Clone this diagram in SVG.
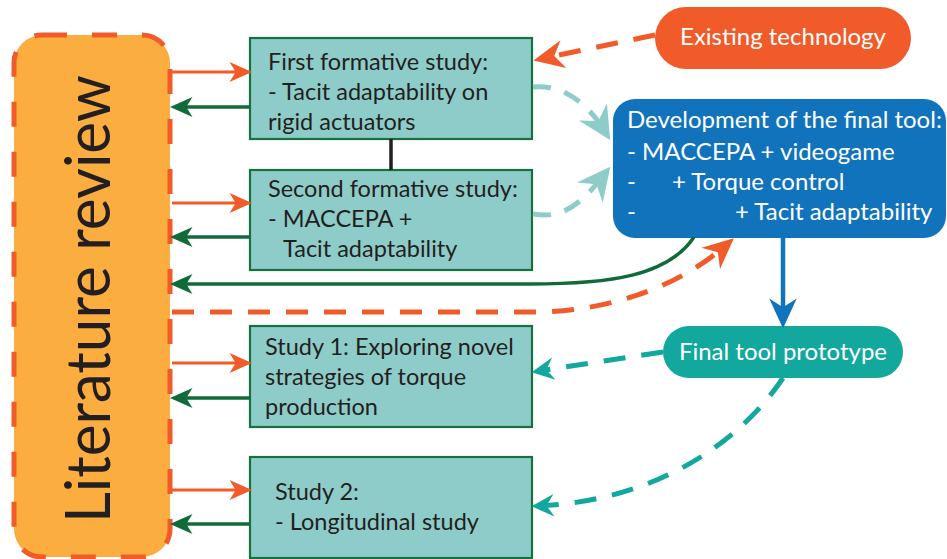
<svg xmlns="http://www.w3.org/2000/svg" width="947" height="559" viewBox="0 0 947 559">
  <style>
    .study rect { fill: #8ECCC9; stroke: #17703F; stroke-width: 2.2; }
    .dark { font-family: Lato, "Open Sans", sans-serif; font-size: 23.5px; fill: #231F20; }
    .light { font-family: Lato, "Open Sans", sans-serif; fill: #FFFFFF; }
    .to-study { stroke: #F15A29; stroke-width: 3; fill: none; }
    .to-lit { stroke: #116B39; stroke-width: 3.5; fill: none; }
    .dash-orange { stroke: #F15A29; stroke-width: 5; fill: none; stroke-dasharray: 22 16; }
    .dash-pale { stroke: #8ECCC9; stroke-width: 5; fill: none; stroke-dasharray: 18 14; }
    .dash-teal { stroke: #13A89E; stroke-width: 5; fill: none; stroke-dasharray: 22 16; }
  </style>
  <defs>
    <marker id="head-orange" markerUnits="userSpaceOnUse" markerWidth="30" markerHeight="30" viewBox="-20 -10 24 20" refX="-8" refY="0" orient="auto" overflow="visible">
      <path d="M0,0 L-18,-8 L-13,0 L-18,8 Z" fill="#F15A29"/>
    </marker>
    <marker id="head-green" markerUnits="userSpaceOnUse" markerWidth="30" markerHeight="30" viewBox="-20 -10 24 20" refX="-8" refY="0" orient="auto" overflow="visible">
      <path d="M0,0 L-18,-8 L-13,0 L-18,8 Z" fill="#116B39"/>
    </marker>
    <marker id="head-blue" markerUnits="userSpaceOnUse" markerWidth="30" markerHeight="30" viewBox="-20 -10 24 20" refX="-10" refY="0" orient="auto" overflow="visible">
      <path d="M0,0 L-24,-11 L-17,0 L-24,11 Z" fill="#1273BD"/>
    </marker>
    <marker id="big-orange" markerUnits="userSpaceOnUse" markerWidth="40" markerHeight="40" viewBox="-30 -15 34 30" refX="-10" refY="0" orient="auto" overflow="visible">
      <path d="M0,0 L-26,-12 L-18,0 L-26,12 Z" fill="#F15A29"/>
    </marker>
    <marker id="big-pale" markerUnits="userSpaceOnUse" markerWidth="40" markerHeight="40" viewBox="-30 -15 34 30" refX="-10" refY="0" orient="auto" overflow="visible">
      <path d="M0,0 L-28,-14 L-19,0 L-28,14 Z" fill="#8ECCC9"/>
    </marker>
    <marker id="small-teal" markerUnits="userSpaceOnUse" markerWidth="30" markerHeight="30" viewBox="-20 -10 24 20" refX="-6" refY="0" orient="auto" overflow="visible">
      <path d="M0,0 L-18,-9 L-12,0 L-18,9 Z" fill="#13A89E"/>
    </marker>
  </defs>

  <!-- Literature review column -->
  <g id="literature-review">
    <rect x="14" y="35" width="156" height="522" rx="28" fill="#FBAE3F" stroke="#F15A29" stroke-width="5" stroke-dasharray="25 25"/>
    <text transform="translate(110,523) rotate(-90)" font-family="Lato, 'Open Sans', sans-serif" font-size="61" fill="#231F20" textLength="448" lengthAdjust="spacingAndGlyphs">Literature review</text>
  </g>

  <!-- Study boxes -->
  <g id="first-formative" class="study">
    <rect x="250" y="38" width="282" height="101"/>
    <text class="dark" x="268" y="70">First formative study:</text>
    <text class="dark" x="268" y="100">- Tacit adaptability on</text>
    <text class="dark" x="268" y="130">rigid actuators</text>
  </g>
  <g id="second-formative" class="study">
    <rect x="250" y="170" width="282" height="100"/>
    <text class="dark" x="268" y="197">Second formative study:</text>
    <text class="dark" x="268" y="227">- MACCEPA +</text>
    <text class="dark" x="283" y="257">Tacit adaptability</text>
  </g>
  <g id="study-1" class="study">
    <rect x="250" y="326" width="282" height="101"/>
    <text class="dark" x="265" y="355">Study 1: Exploring novel</text>
    <text class="dark" x="265" y="385">strategies of torque</text>
    <text class="dark" x="265" y="415">production</text>
  </g>
  <g id="study-2" class="study">
    <rect x="250" y="457" width="282" height="101"/>
    <text class="dark" x="275" y="500">Study 2:</text>
    <text class="dark" x="275" y="530">- Longitudinal study</text>
  </g>

  <!-- Inputs and the final tool -->
  <g id="existing-technology">
    <rect x="655" y="7" width="256" height="62" rx="31" fill="#F15A29"/>
    <text class="light" x="783" y="45" font-size="24" text-anchor="middle">Existing technology</text>
  </g>
  <g id="final-tool-development">
    <rect x="613" y="99" width="333" height="139" rx="22" fill="#1273BD"/>
    <text class="light" x="627" y="128" font-size="24">Development of the final tool:</text>
    <text class="light" x="627" y="160" font-size="24">- MACCEPA + videogame</text>
    <text class="light" x="627" y="190" font-size="24">-</text>
    <text class="light" x="672" y="190" font-size="24">+ Torque control</text>
    <text class="light" x="627" y="220" font-size="24">-</text>
    <text class="light" x="735" y="220" font-size="24">+ Tacit adaptability</text>
  </g>
  <g id="final-tool-prototype">
    <rect x="663" y="326" width="240" height="52" rx="26" fill="#13A89E"/>
    <text class="light" x="783" y="360" font-size="24" text-anchor="middle">Final tool prototype</text>
  </g>

  <!-- Connectors -->
  <g id="connectors">
    <!-- literature review to each study and back -->
    <line class="to-study" x1="172" y1="72" x2="242" y2="72" marker-end="url(#head-orange)"/>
    <line class="to-lit" x1="250" y1="107" x2="180" y2="107" marker-end="url(#head-green)"/>
    <line class="to-study" x1="172" y1="203" x2="242" y2="203" marker-end="url(#head-orange)"/>
    <line class="to-lit" x1="250" y1="237" x2="180" y2="237" marker-end="url(#head-green)"/>
    <line class="to-study" x1="172" y1="363" x2="242" y2="363" marker-end="url(#head-orange)"/>
    <line class="to-lit" x1="250" y1="398" x2="180" y2="398" marker-end="url(#head-green)"/>
    <line class="to-study" x1="172" y1="490" x2="242" y2="490" marker-end="url(#head-orange)"/>
    <line class="to-lit" x1="250" y1="524" x2="180" y2="524" marker-end="url(#head-green)"/>

    <!-- link between the two formative studies -->
    <line x1="391" y1="139" x2="391" y2="170" stroke="#231F20" stroke-width="3.5"/>

    <!-- existing technology feeds the first formative study -->
    <path class="dash-orange" d="M655,35 L545,58" marker-end="url(#big-orange)"/>

    <!-- formative studies feed the final tool -->
    <path class="dash-pale" d="M533,87 C563,84 588,104 604,130" marker-end="url(#big-pale)"/>
    <path class="dash-pale" d="M533,214 C565,220 584,200 603,176" marker-end="url(#big-pale)"/>

    <!-- final tool back to the literature review -->
    <path class="to-lit" d="M694,237 C668,276 610,284 530,284 L180,284" marker-end="url(#head-green)"/>
    <path class="dash-orange" d="M172,312 L540,312 C615,310 680,285 725,246" marker-end="url(#big-orange)"/>

    <!-- development leads to the prototype -->
    <line x1="783" y1="238" x2="783" y2="316" stroke="#1273BD" stroke-width="4.5" marker-end="url(#head-blue)"/>

    <!-- prototype feeds studies 1 and 2 -->
    <path class="dash-teal" d="M663,352 L539,371" marker-end="url(#small-teal)"/>
    <path class="dash-teal" d="M783,378 C745,435 665,500 539,506" marker-end="url(#small-teal)"/>
  </g>
</svg>
